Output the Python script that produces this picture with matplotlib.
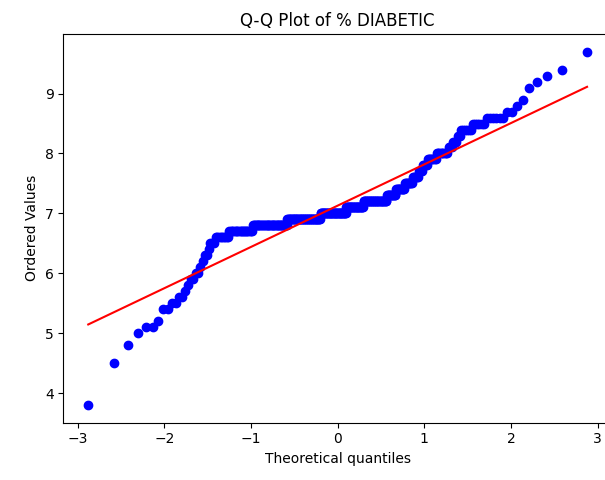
from statistics import NormalDist
import numpy as np
import matplotlib
matplotlib.use("Agg")
import matplotlib.pyplot as plt

# ----------------------------
# Observed values (% diabetic) and how many counties share each value
# ----------------------------
levels = [3.8, 4.5, 4.8, 5.0, 5.1, 5.2, 5.4, 5.5, 5.6, 5.7, 5.8, 5.9, 6.0,
          6.1, 6.2, 6.3, 6.4, 6.5, 6.6, 6.7, 6.8, 6.9, 7.0, 7.1, 7.2, 7.3,
          7.4, 7.5, 7.6, 7.7, 7.8, 7.9, 8.0, 8.1, 8.2, 8.3, 8.4, 8.5, 8.6,
          8.7, 8.8, 8.9, 9.1, 9.2, 9.3, 9.4, 9.7]
counts = [1, 1, 1, 1, 2, 1, 2, 2, 2, 1, 1, 2, 2,
          1, 1, 2, 1, 3, 9, 20, 41, 49, 41, 27, 34, 12,
          11, 9, 6, 4, 5, 8, 9, 3, 3, 2, 6, 6, 6,
          2, 1, 1, 1, 1, 1, 1, 1]

ordered = np.sort(np.repeat(levels, counts))
n = len(ordered)

# ----------------------------
# Theoretical normal quantiles (Filliben order statistic medians, as scipy.stats.probplot)
# ----------------------------
m = (np.arange(1, n + 1) - 0.3175) / (n + 0.365)
m[-1] = 0.5 ** (1.0 / n)
m[0] = 1 - m[-1]
osm = np.array([NormalDist().inv_cdf(p) for p in m])

slope, intercept = np.polyfit(osm, ordered, 1)

fig, ax = plt.subplots(figsize=(6.05, 4.8), dpi=100)
ax.plot(osm, ordered, 'bo')
ax.plot(osm, slope * osm + intercept, 'r-')
ax.set_title("Q-Q Plot of % DIABETIC")
ax.set_xlabel("Theoretical quantiles")
ax.set_ylabel("Ordered Values")
# the original image is cut off on the right, so the axes run past the edge
ax.set_position([63.3 / 605, 57.3 / 480, 548.7 / 605, 388.7 / 480])
plt.savefig("out.png")
